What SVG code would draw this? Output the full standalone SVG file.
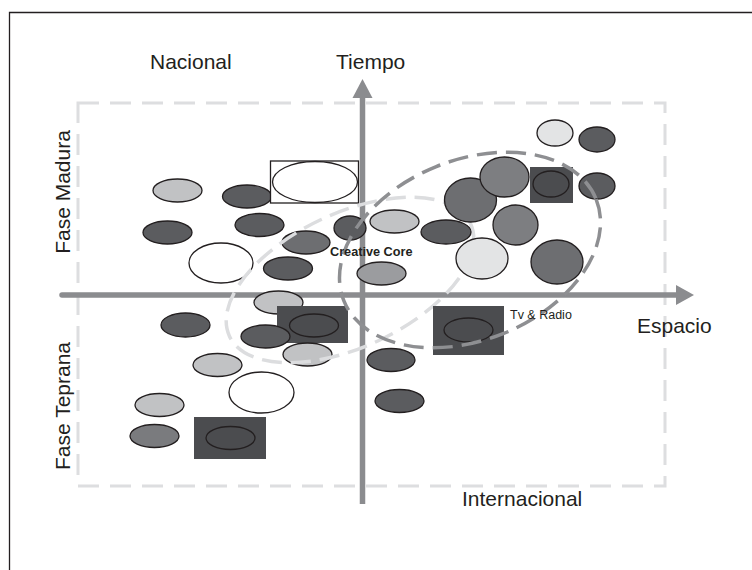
<svg xmlns="http://www.w3.org/2000/svg" width="752" height="570" viewBox="0 0 752 570">
<style>
text{font-family:"Liberation Sans",Arial,sans-serif;fill:#231f20}
.lbl{font-size:21px}
.small{font-size:12.5px}
.bold{font-size:12.7px;font-weight:bold}
.e{stroke:#231f20;stroke-width:1.3}
.dk{fill:#5b5c5f}
.d2{fill:#6d6e71}
.m{fill:#7d7e81}
.g{fill:#9b9c9f}
.lt{fill:#c1c2c4}
.vl{fill:#e3e4e5}
.wh{fill:#fff}
.box{fill:#4b4c4f}
.boxe{fill:#4b4c4f;stroke:#231f20;stroke-width:1.3}
.axis{stroke:#8b8c8f;stroke-width:5.5;fill:none}
.head{fill:#8b8c8f}
.frame{fill:none;stroke:#231f20;stroke-width:1.3}
.zone{fill:none;stroke:#dddee0;stroke-width:3;stroke-dasharray:21 11}
.core{fill:none;stroke:#dcdddf;stroke-width:3.5;stroke-dasharray:20 9}
.cluster{fill:none;stroke:#8e8f92;stroke-width:3.5;stroke-dasharray:20 9}
</style>
<rect width="752" height="570" fill="#fff"/>
<path class="frame" d="M9.5,570 V12.5 H752"/>
<rect class="zone" x="78" y="103" width="587" height="383"/>
<g id="connectors">
<line class="axis" x1="362.5" y1="504" x2="362.5" y2="96"/>
<polygon class="head" points="352.5,98 372.5,98 362.5,79"/>
<line class="axis" x1="62" y1="295" x2="677" y2="295" stroke-linecap="round"/>
<polygon class="head" points="676,285 694,295 676,305"/>
</g>
<g id="nodes-left">
<g id="n1"><ellipse class="e lt" cx="177.5" cy="190.5" rx="24.5" ry="11.5"/></g>
<g id="n2"><ellipse class="e dk" cx="247" cy="196.5" rx="24.5" ry="11.5"/></g>
<g id="n3"><rect x="270.5" y="161" width="88" height="42" fill="#fff" stroke="#231f20" stroke-width="1.3"/><ellipse class="e wh" cx="315" cy="182" rx="42.5" ry="20.5"/></g>
<g id="n4"><ellipse class="e dk" cx="167.5" cy="232.5" rx="24.5" ry="11.5"/></g>
<g id="n5"><ellipse class="e dk" cx="259.5" cy="225" rx="24.5" ry="11.5"/></g>
<g id="n6"><ellipse class="e d2" cx="306" cy="242.5" rx="24" ry="11.5"/></g>
<g id="n7"><ellipse class="e dk" cx="350" cy="228" rx="16" ry="12"/></g>
<g id="n8"><ellipse class="e wh" cx="221" cy="263" rx="32" ry="20"/></g>
<g id="n9"><ellipse class="e dk" cx="288" cy="268.5" rx="24.5" ry="11.5"/></g>
<g id="n10"><ellipse class="e g" cx="381.5" cy="273.5" rx="24.5" ry="11.5"/></g>
<g id="n11"><ellipse class="e lt" cx="394.5" cy="221.5" rx="24.5" ry="11.5"/></g>
<g id="n12"><ellipse class="e lt" cx="278.5" cy="302.5" rx="24.5" ry="11.5"/></g>
<g id="n13"><rect class="box" x="277" y="306" width="71" height="37"/><ellipse class="boxe" cx="314" cy="325.5" rx="24.5" ry="11.5"/></g>
<g id="n14"><ellipse class="e dk" cx="185.5" cy="325" rx="24.5" ry="12"/></g>
<g id="n15"><ellipse class="e dk" cx="265.5" cy="336.5" rx="24.5" ry="11.5"/></g>
<g id="n16"><ellipse class="e lt" cx="307.5" cy="354.5" rx="24.5" ry="11.5"/></g>
<g id="n17"><ellipse class="e lt" cx="217.5" cy="365" rx="24.5" ry="11.5"/></g>
<g id="n18"><ellipse class="e wh" cx="261.5" cy="392.5" rx="32.5" ry="20.5"/></g>
<g id="n19"><ellipse class="e lt" cx="159.5" cy="405" rx="24.5" ry="11.5"/></g>
<g id="n20"><ellipse class="e" fill="#7a7b7e" cx="154.5" cy="436" rx="24.5" ry="11.5"/></g>
<g id="n21"><rect class="box" x="194" y="417" width="72" height="42"/><ellipse class="boxe" cx="230.5" cy="438" rx="24.5" ry="11.5"/></g>
<g id="n22"><ellipse class="e dk" cx="391" cy="360" rx="24" ry="11.5"/></g>
<g id="n23"><ellipse class="e dk" cx="399.5" cy="401" rx="24.5" ry="11.5"/></g>
</g>
<g id="region-core">
<ellipse class="core" cx="350" cy="280" rx="133" ry="67" transform="rotate(-25 350 280)"/>
</g>
<g id="nodes-right">
<g id="n24"><ellipse class="e vl" cx="555" cy="133" rx="18" ry="13"/></g>
<g id="n25"><ellipse class="e dk" cx="597" cy="139.5" rx="18" ry="12.5"/></g>
<g id="n26"><ellipse class="e dk" cx="597" cy="186" rx="18" ry="13"/></g>
<g id="n27"><rect class="box" x="530" y="167" width="43" height="36"/><ellipse class="boxe" cx="551" cy="184" rx="18" ry="13"/></g>
<g id="n28"><ellipse class="e d2" cx="470.5" cy="200" rx="26" ry="22"/></g>
<g id="n29"><ellipse class="e m" cx="504.5" cy="177" rx="24.5" ry="20"/></g>
<g id="n30"><ellipse class="e m" cx="515.5" cy="225" rx="22.5" ry="20"/></g>
<g id="n31"><ellipse class="e dk" cx="446" cy="232" rx="25" ry="12"/></g>
<g id="n32"><ellipse class="e vl" cx="482" cy="258.5" rx="26" ry="20.5"/></g>
<g id="n33"><ellipse class="e d2" cx="557" cy="262" rx="26" ry="22"/></g>
<g id="n34"><rect class="box" x="433" y="306" width="71" height="49"/><ellipse class="boxe" cx="468.5" cy="330" rx="24.5" ry="12"/></g>
</g>
<g id="region-cluster">
<ellipse class="cluster" cx="470" cy="250" rx="136" ry="90" transform="rotate(-22 470 250)"/>
</g>
<g id="labels">
<text class="lbl" x="150" y="69">Nacional</text>
<text class="lbl" x="336" y="69">Tiempo</text>
<text class="lbl" x="637" y="333">Espacio</text>
<text class="lbl" x="462" y="506">Internacional</text>
<text class="lbl" text-anchor="middle" transform="translate(70,192) rotate(-90)">Fase Madura</text>
<text class="lbl" text-anchor="middle" transform="translate(70,406) rotate(-90)">Fase Teprana</text>
<text class="small" x="510" y="319">Tv &amp; Radio</text>
<text class="bold" x="330" y="256">Creative Core</text>
</g>
</svg>
